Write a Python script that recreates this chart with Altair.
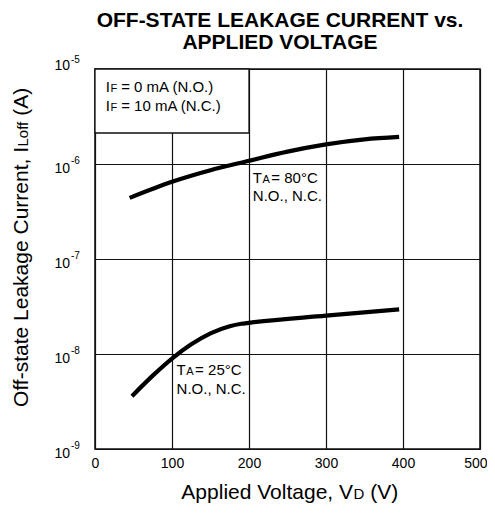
import altair as alt
import pandas as pd

FONT = "Liberation Sans"

# ---------------- data ----------------
v_80 = [45, 100, 150, 200, 250, 300, 350, 395]
i_80 = [4.4e-7, 6.5e-7, 8.6e-7, 1.08e-6, 1.35e-6, 1.61e-6, 1.82e-6, 1.93e-6]

v_25 = [48, 75, 100, 125, 150, 175, 190, 200, 300, 395]
i_25 = [3.6e-9, 5.92e-9, 8.95e-9, 1.265e-8, 1.65e-8, 1.96e-8, 2.08e-8, 2.13e-8, 2.53e-8, 2.95e-8]

x_ticks = [0, 100, 200, 300, 400, 500]
y_ticks = [1e-5, 1e-6, 1e-7, 1e-8, 1e-9]
y_exps = ["-5", "-6", "-7", "-8", "-9"]

box_v = [0, 200]
box_i = [2.12e-6, 1e-5]

title_lines = ["OFF-STATE LEAKAGE CURRENT vs.", "APPLIED VOLTAGE"]

# annotation: (voltage, current, main, subscript, rest)
notes = [
    (14, 5.73e-6, "I", "F", "= 0 mA (N.O.)"),
    (14, 3.64e-6, "I", "F", "= 10 mA (N.C.)"),
    (205, 6.36e-7, "T", "A", "= 80°C"),
    (205, 4.05e-7, "N.O., N.C.", "", ""),
    (106, 6.0e-9, "T", "A", "= 25°C"),
    (106, 3.77e-9, "N.O., N.C.", "", ""),
]
note_gap = [4.0, 4.0, 1.5, 0, 1.5, 0]

# ---------------- helpers ----------------
W = {"I": 0.278, "T": 0.611, "F": 0.611, "A": 0.667, "D": 0.722, "L": 0.556,
     "o": 0.556, "f": 0.278, " ": 0.278}

def width(s, size):
    return sum(W.get(c, 0.556) for c in s) * size

xs = alt.Scale(domain=[0, 500], nice=False, zero=False)
ys = alt.Scale(type="log", domain=[1e-9, 1e-5], nice=False)

X_AXIS = alt.Axis(values=x_ticks, grid=True, gridColor="#111", gridWidth=1.2,
                  ticks=False, domain=False, title=None, labelFont=FONT,
                  labelFontSize=14, labelColor="black", labelPadding=7,
                  labelFlush=False,
                  labelAlign={"condition": {"test": "datum.value == 500", "value": "right"},
                              "value": "center"},
                  labelOffset={"condition": {"test": "datum.value == 500", "value": 7},
                               "value": 0})
Y_AXIS = alt.Axis(values=y_ticks, grid=True, gridColor="#111", gridWidth=1.2,
                  ticks=False, domain=False, labels=False, title=None)

def X(f):
    return alt.X(f, scale=xs, axis=X_AXIS)

def Y(f):
    return alt.Y(f, scale=ys, axis=Y_AXIS)

df80 = pd.DataFrame({"V": v_80, "I": i_80})
df25 = pd.DataFrame({"V": v_25, "I": i_25})

def curve(df):
    return alt.Chart(df).mark_line(color="black", strokeWidth=4.2,
                                   interpolate="monotone", strokeCap="butt").encode(
        x=X("V:Q"), y=Y("I:Q"))

layers = [curve(df80)]

box_df = pd.DataFrame({"V": [box_v[0]], "V2": [box_v[1]], "I": [box_i[0]], "I2": [box_i[1]]})
layers.append(alt.Chart(box_df).mark_rect(fill="white", stroke="#111", strokeWidth=1.3).encode(
    x=X("V:Q"), x2="V2:Q", y=Y("I:Q"), y2="I2:Q"))

layers.append(curve(df25))

# annotations
MAIN, SUB = 15, 11
for (v, i, m, s, r), gap in zip(notes, note_gap):
    d = pd.DataFrame({"V": [v], "I": [i], "m": [m], "s": [s], "r": [r]})
    base = alt.Chart(d)
    enc = dict(x=X("V:Q"), y=Y("I:Q"))
    layers.append(base.mark_text(align="left", baseline="alphabetic", font=FONT,
                                 fontSize=MAIN, color="black").encode(text="m:N", **enc))
    if s:
        dx1 = width(m, MAIN) + 0.5
        layers.append(base.mark_text(align="left", baseline="alphabetic", font=FONT,
                                     fontSize=SUB, color="black", dx=dx1).encode(text="s:N", **enc))
        dx2 = dx1 + width(s, SUB) + gap
        layers.append(base.mark_text(align="left", baseline="alphabetic", font=FONT,
                                     fontSize=MAIN, color="black", dx=dx2).encode(text="r:N", **enc))

# y tick labels 10^n
ydf = pd.DataFrame({"I": y_ticks, "e": y_exps, "b": ["10"] * len(y_ticks)})
for cond, dyb, dye in [("datum.e == '-5'", -3.5, -9), ("datum.e != '-5'", 4.5, -3.5)]:
    bb = alt.Chart(ydf).transform_filter(cond)
    layers.append(bb.mark_text(align="right", baseline="middle", font=FONT, fontSize=14,
                               color="black", dy=dyb).encode(
        x=alt.value(-25), y=Y("I:Q"), text="b:N"))
    layers.append(bb.mark_text(align="left", baseline="middle", font=FONT, fontSize=10,
                               color="black", dy=dye).encode(
        x=alt.value(-24), y=Y("I:Q"), text="e:N"))

# x axis title: Applied Voltage, V_D (V)
XT, XS = 21, 15
xp, xy = 258, 430
xt = pd.DataFrame({"a": ["Applied Voltage, V"], "b": ["D"], "c": ["(V)"]})
layers.append(alt.Chart(xt).mark_text(align="right", baseline="alphabetic", font=FONT,
                                      fontSize=XT, color="black").encode(
    x=alt.value(xp), y=alt.value(xy), text="a:N"))
layers.append(alt.Chart(xt).mark_text(align="left", baseline="alphabetic", font=FONT,
                                      fontSize=XS, color="black").encode(
    x=alt.value(xp + 0.5), y=alt.value(xy), text="b:N"))
layers.append(alt.Chart(xt).mark_text(align="left", baseline="alphabetic", font=FONT,
                                      fontSize=XT, color="black").encode(
    x=alt.value(xp + 0.5 + width("D", XS) + width(" ", XT)), y=alt.value(xy), text="c:N"))

# y axis title: Off-state Leakage Current, I_Loff (A)
yp, yx = 78, -67
yt = pd.DataFrame({"a": ["Off-state Leakage Current, I"], "b": ["Loff"], "c": ["(A)"]})
layers.append(alt.Chart(yt).mark_text(align="right", baseline="alphabetic", font=FONT,
                                      fontSize=XT, color="black", angle=270).encode(
    x=alt.value(yx), y=alt.value(yp), text="a:N"))
layers.append(alt.Chart(yt).mark_text(align="left", baseline="alphabetic", font=FONT,
                                      fontSize=XS, color="black", angle=270).encode(
    x=alt.value(yx), y=alt.value(yp - 0.5), text="b:N"))
layers.append(alt.Chart(yt).mark_text(align="left", baseline="alphabetic", font=FONT,
                                      fontSize=XT, color="black", angle=270).encode(
    x=alt.value(yx), y=alt.value(yp - 0.5 - width("Loff", XS) - width(" ", XT)), text="c:N"))

# title
tdf = pd.DataFrame({"t": title_lines, "k": [0, 1]})
for k, yv in [(0, -42), (1, -20)]:
    layers.append(alt.Chart(tdf).transform_filter(f"datum.k == {k}").mark_text(
        align="center", baseline="alphabetic", font=FONT, fontSize=21,
        fontWeight="bold", color="black").encode(
        x=alt.value(185), y=alt.value(yv), text="t:N"))

chart = alt.layer(*layers).properties(
    width=385, height=380,
    autosize=alt.AutoSizeParams(type="none"),
    padding={"left": 87, "top": 61, "right": 7, "bottom": 61},
    background="white",
).configure_view(stroke="#111", strokeWidth=1.5)

chart.save("out.html", embed_options={"renderer": "svg", "actions": False})
